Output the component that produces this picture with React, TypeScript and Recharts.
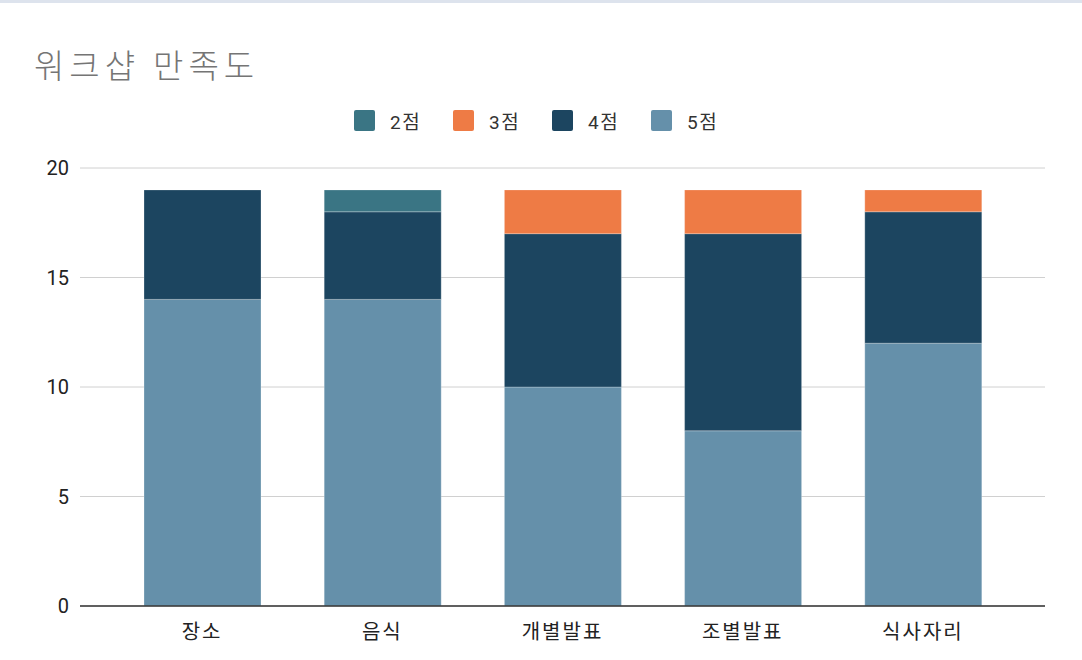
import { Bar, BarChart, CartesianGrid, XAxis, YAxis } from "recharts";

const categories = ["장소", "음식", "개별발표", "조별발표", "식사자리"];
const score5 = [14, 14, 10, 8, 12];
const score4 = [5, 4, 7, 9, 6];
const score3 = [0, 0, 2, 2, 1];
const score2 = [0, 1, 0, 0, 0];
const yTicks = [0, 5, 10, 15, 20];

const series = [
  { key: "s2", name: "2점", color: "#3a7584" },
  { key: "s3", name: "3점", color: "#ee7b45" },
  { key: "s4", name: "4점", color: "#1c4560" },
  { key: "s5", name: "5점", color: "#6590aa" }
];

const data = categories.map((c, i) => ({
  name: c,
  s5: score5[i],
  s4: score4[i],
  s3: score3[i],
  s2: score2[i]
}));

const font = "Roboto, 'Noto Sans CJK KR', sans-serif";

function Legend() {
  return (
    <div
      style={{
        position: "absolute",
        top: 107,
        left: 354,
        display: "flex",
        fontFamily: font,
        fontSize: 19,
        color: "#333"
      }}
    >
      {series.map((s) => (
        <div key={s.key} style={{ display: "flex", alignItems: "center", width: 99 }}>
          <span
            style={{
              display: "inline-block",
              width: 21,
              height: 21,
              borderRadius: 2,
              background: s.color,
              marginRight: 15
            }}
          />
          <span style={{ letterSpacing: 1.5 }}>{s.name}</span>
        </div>
      ))}
    </div>
  );
}

export default function App() {
  // stacked bottom to top: 5점, 4점, 3점, 2점
  const stackOrder = ["s5", "s4", "s3", "s2"];
  return (
    <div
      style={{
        position: "absolute",
        left: 0,
        top: 0,
        width: 1082,
        height: 660,
        background: "#fff",
        overflow: "hidden"
      }}
    >
      <div style={{ position: "absolute", left: 0, top: 0, width: 1082, height: 3, background: "#dde3ed" }} />
      <div
        style={{
          position: "absolute",
          left: 34,
          top: 40,
          fontFamily: font,
          fontSize: 33,
          fontWeight: 300,
          color: "#757575",
          letterSpacing: 5
        }}
      >
        워크샵 만족도
      </div>
      <Legend />
      <BarChart
        width={1082}
        height={660}
        data={data}
        margin={{ top: 168, right: 37, bottom: 14, left: 0 }}
        style={{ position: "absolute", left: 0, top: 0 }}
      >
        <CartesianGrid vertical={false} stroke="#d0d0d0" />
        <XAxis
          dataKey="name"
          height={40}
          padding={{ left: 32, right: 32 }}
          tickLine={false}
          axisLine={{ stroke: "#333", strokeWidth: 1.5 }}
          tickMargin={13}
          tick={{ fill: "#222", fontSize: 20, fontFamily: font, letterSpacing: 2 }}
        />
        <YAxis
          width={80}
          domain={[0, 20]}
          ticks={yTicks}
          tickLine={false}
          axisLine={false}
          tickSize={0}
          tickMargin={11}
          tick={{ fill: "#222", fontSize: 20, fontFamily: font }}
        />
        {stackOrder.map((k) => {
          const s = series.find((x) => x.key === k)!;
          return (
            <Bar
              key={k}
              dataKey={k}
              name={s.name}
              stackId="a"
              fill={s.color}
              barSize={117}
              stroke="#ffffff"
              strokeOpacity={0.25}
              strokeWidth={1}
              isAnimationActive={false}
            />
          );
        })}
      </BarChart>
    </div>
  );
}
